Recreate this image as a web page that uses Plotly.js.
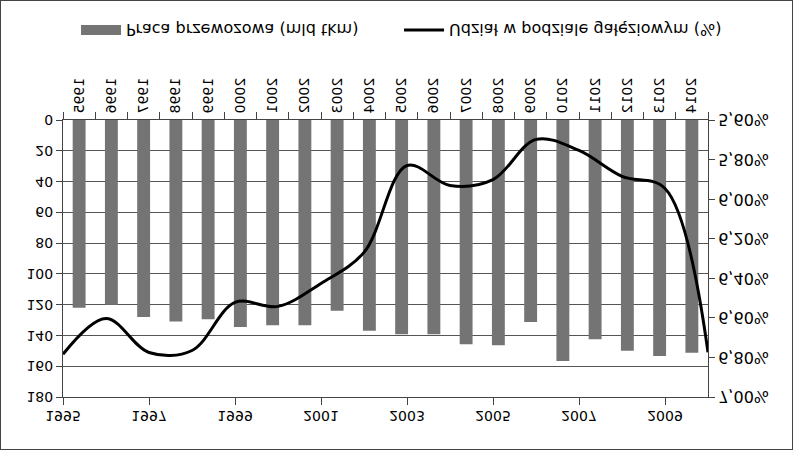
<!DOCTYPE html>
<html>
<head>
<meta charset="utf-8">
<script src="https://cdn.plot.ly/plotly-3.0.1.min.js"></script>
<style>
html,body{margin:0;padding:0;background:#fff;}
#wrap{position:relative;width:793px;height:450px;overflow:hidden;}
#chart{width:793px;height:450px;transform:scaleY(-1);transform-origin:50% 50%;}
#frame{position:absolute;left:0;top:0;width:791px;height:448px;border:1px solid #444;pointer-events:none;}
</style>
</head>
<body>
<div id="wrap"><div id="chart"></div><div id="frame"></div></div>
<script>
// Bars: Praca przewozowa (mld tkm)
const barYears = ['1995','1996','1997','1998','1999','2000','2001','2002','2003','2004',
                  '2005','2006','2007','2008','2009','2010','2011','2012','2013','2014'];
const barValues = [122, 120, 128, 131, 129.5, 134.5, 133.4, 133.4, 124, 137,
                   139.3, 139.3, 145.8, 146.4, 131.3, 156.6, 142.5, 150, 153.4, 151.2];
// Line: Udział w podziale gałęziowym (%)
const lineYears = [1995,1996,1997,1998,1999,2000,2001,2002,2003,2004,2005,2006,2007,2008,2009,2010];
const lineValues = [6.784, 6.603, 6.775, 6.765, 6.522, 6.542, 6.426, 6.269, 5.830, 5.931,
                    5.901, 5.698, 5.754, 5.885, 5.946, 6.774];
const leftTicks = [0,20,40,60,80,100,120,140,160,180];
const rightTicks = [5.6,5.8,6.0,6.2,6.4,6.6,6.8,7.0];
const rightTickText = ['5,60%','5,80%','6,00%','6,20%','6,40%','6,60%','6,80%','7,00%'];
const lineTickYears = [1995,1997,1999,2001,2003,2005,2007,2009];
const barName = 'Praca przewozowa (mld tkm)';
const lineName = 'Udział w podziale gałęziowym (%)';

const FONT = 'DejaVu Sans';
const BAR_COLOR = '#747474';
const traces = [
  {type:'bar', name:barName, x:barYears, y:barValues, showlegend:false,
   marker:{color:BAR_COLOR}, xaxis:'x', yaxis:'y'},
  // legend-only swatch for the bar series (wide rectangle, like the reference)
  {type:'scatter', mode:'lines', name:barName, x:[null], y:[null],
   line:{color:BAR_COLOR, width:13}, xaxis:'x', yaxis:'y', hoverinfo:'skip'},
  {type:'scatter', mode:'lines', name:lineName, x:lineYears, y:lineValues,
   line:{color:'#000', width:3, shape:'spline', smoothing:1}, xaxis:'x2', yaxis:'y2'}
];
const layout = {
  width:793, height:450,
  margin:{l:63, r:85, t:53, b:120, pad:0},
  paper_bgcolor:'#fff', plot_bgcolor:'#fff',
  separators:', ',
  font:{family:FONT, size:14, color:'#000'},
  showlegend:true,
  legend:{orientation:'h', x:0.521, xanchor:'center', y:-0.325, yanchor:'middle',
          font:{family:FONT, size:16, color:'#000'}, traceorder:'normal', itemwidth:40,
          tracegroupgap:0, entrywidth:268, entrywidthmode:'pixels'},
  bargap:0.6,
  xaxis:{type:'category', categoryorder:'array', categoryarray:barYears,
         tickangle:-90, ticks:'outside', ticklen:7, tickcolor:'#444', tickson:'boundaries',
         showline:true, linecolor:'#444', linewidth:1, showgrid:false, zeroline:false,
         tickfont:{family:FONT, size:14}},
  xaxis2:{overlaying:'x', side:'top', anchor:'y', range:[1995,2010],
          tickmode:'array', tickvals:lineTickYears, ticktext:lineTickYears.map(String),
          ticks:'outside', ticklen:7, tickcolor:'#444', showline:true, linecolor:'#444',
          showgrid:false, zeroline:false, tickfont:{family:FONT, size:14}},
  yaxis:{range:[0,180], tickmode:'array', tickvals:leftTicks, ticks:'outside', ticklen:6,
         tickcolor:'#444', showline:true, linecolor:'#444', gridcolor:'#555', gridwidth:1,
         zeroline:false, tickfont:{family:FONT, size:14}},
  yaxis2:{overlaying:'y', side:'right', anchor:'x', range:[5.6,7.0], tickmode:'array',
          tickvals:rightTicks, ticktext:rightTickText, ticks:'outside', ticklen:6,
          tickcolor:'#444', showline:true, linecolor:'#444', showgrid:false, zeroline:false,
          tickfont:{family:FONT, size:16}}
};
Plotly.newPlot('chart', traces, layout, {staticPlot:true, displayModeBar:false});
</script>
</body>
</html>
